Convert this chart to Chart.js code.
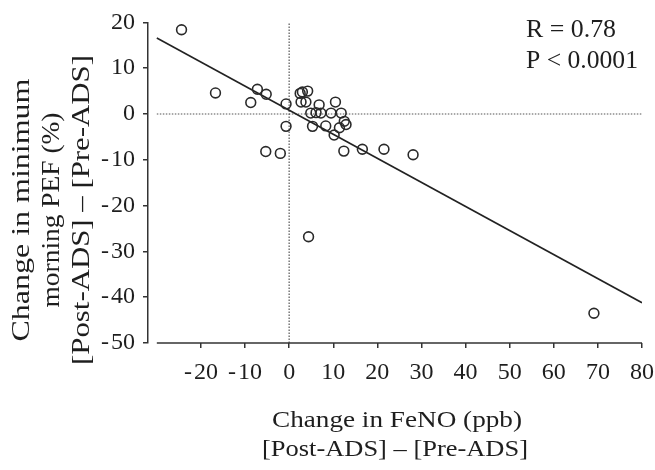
<!DOCTYPE html>
<html>
<head>
<meta charset="utf-8">
<script src="https://cdn.jsdelivr.net/npm/chart.js@4.4.0/dist/chart.umd.min.js"></script>
<style>
  html, body { margin: 0; padding: 0; background: #fff; overflow: hidden; }
  #wrap { position: relative; width: 655px; height: 470px; }
</style>
</head>
<body>
<div id="wrap"><canvas id="chart"></canvas></div>
<script>
// change in FeNO (ppb), post - pre
const feno = [-24.4, -16.7, -8.7, -7.2, -5.2, -5.3, -2.0, -0.7, -0.7, 2.5, 3.0, 4.2, 2.7, 3.8, 6.8, 10.5,
  4.9, 6.1, 7.2, 9.5, 11.8, 5.3, 8.3, 12.5, 12.9, 11.4, 10.2, 12.4, 16.6, 21.5, 28.1, 4.4, 69.1];
// change in minimum morning PEF (%), post - pre
const pef = [18.4, 4.6, 2.5, 5.4, 4.3, -8.2, -8.6, 2.2, -2.7, 4.5, 4.8, 5.0, 2.6, 2.6, 2.0, 2.6,
  0.2, 0.3, 0.2, 0.2, 0.2, -2.7, -2.6, -1.6, -2.3, -3.0, -4.6, -8.1, -7.7, -7.7, -8.9, -26.8, -43.5];

// regression line ends
const fitX = [-30, 80];
const fitY = [16.6, -41.2];

const xTicks = [-20, -10, 0, 10, 20, 30, 40, 50, 60, 70, 80];
const xRange = [-30, 80];
const yRange = [-50, 20];

const statsLines = ["R = 0.78", "P < 0.0001"];
const xTitle = ["Change in FeNO (ppb)", "[Post-ADS] \u2013 [Pre-ADS]"];
const yTitle = ["Change in minimum", "morning PEF (%)", "[Post-ADS] \u2013 [Pre-ADS]"];

const ink = "#1e1e1e";
const serif = "'Liberation Serif', 'Times New Roman', serif";

// draw text stretched to a given width (reference font runs wider than Times)
function stretchText(ctx, str, x, y, width) {
  const w = ctx.measureText(str).width;
  ctx.save();
  ctx.translate(x, y);
  ctx.scale(width / w, 1);
  ctx.fillText(str, 0, 0);
  ctx.restore();
}

// minus sign in the reference sits a little apart from the digits
const tickLabel = (v) => (v < 0 ? "-\u200A" + Math.abs(v) : String(v));

const extras = {
  id: "extras",
  afterDraw(chart) {
    const { ctx, chartArea, scales } = chart;
    ctx.save();

    // x axis line, starts at -30 (leaves a gap to the y axis)
    ctx.strokeStyle = "#333";
    ctx.lineWidth = 1.5;
    ctx.beginPath();
    ctx.moveTo(scales.x.getPixelForValue(xRange[0]), chartArea.bottom);
    ctx.lineTo(scales.x.getPixelForValue(xRange[1]), chartArea.bottom);
    ctx.stroke();

    ctx.fillStyle = ink;
    ctx.textBaseline = "alphabetic";

    // R / P annotation
    ctx.font = "25px " + serif;
    ctx.textAlign = "left";
    stretchText(ctx, statsLines[0], 526, 37, 90);
    stretchText(ctx, statsLines[1], 526, 68, 112);

    // x title
    ctx.font = "24px " + serif;
    ctx.textAlign = "center";
    stretchText(ctx, xTitle[0], 397, 427, 250);
    stretchText(ctx, xTitle[1], 395, 456, 266);

    // y title, rotated
    const yBase = [29, 59, 89];
    const yLen = [263, 195, 310];
    ctx.font = "26px " + serif;
    yTitle.forEach((line, i) => {
      ctx.save();
      ctx.translate(yBase[i], 210);
      ctx.rotate(-Math.PI / 2);
      stretchText(ctx, line, 0, 0, yLen[i]);
      ctx.restore();
    });

    ctx.restore();
  }
};

const tickFont = { family: serif, size: 24 };

new Chart(document.getElementById("chart"), {
  type: "scatter",
  data: {
    datasets: [
      {
        // horizontal dotted reference at 0
        type: "line",
        data: xRange.map((x) => ({ x: x, y: 0 })),
        borderColor: "#555",
        borderWidth: 1.2,
        borderDash: [1.5, 1.5],
        pointRadius: 0,
        order: 4
      },
      {
        // vertical dotted reference at 0
        type: "line",
        data: yRange.map((y) => ({ x: 0, y: y })),
        borderColor: "#555",
        borderWidth: 1.2,
        borderDash: [1.5, 1.5],
        pointRadius: 0,
        order: 3
      },
      {
        type: "line",
        data: fitX.map((x, i) => ({ x: x, y: fitY[i] })),
        borderColor: "#222",
        borderWidth: 1.6,
        pointRadius: 0,
        order: 2
      },
      {
        data: feno.map((x, i) => ({ x: x, y: pef[i] })),
        pointStyle: "circle",
        pointRadius: 4.9,
        pointBorderWidth: 1.6,
        pointBorderColor: "#2a2a2a",
        pointBackgroundColor: "rgba(255,255,255,0)",
        order: 1
      }
    ]
  },
  options: {
    responsive: true,
    maintainAspectRatio: false,
    animation: false,
    layout: { padding: { left: 0, right: 13, top: 18, bottom: 0 } },
    plugins: {
      legend: { display: false },
      tooltip: { enabled: false }
    },
    scales: {
      x: {
        type: "linear",
        min: -32,
        max: 80,
        afterBuildTicks: (scale) => {
          scale.ticks = xTicks.map((v) => ({ value: v }));
        },
        afterFit: (scale) => {
          scale.height = 127;
          scale.paddingLeft = 0;
          scale.paddingRight = 0;
        },
        border: { display: false },
        grid: {
          drawOnChartArea: false,
          drawTicks: true,
          tickLength: 5,
          color: "#333",
          lineWidth: 1.5
        },
        ticks: {
          font: tickFont,
          color: ink,
          padding: 10,
          maxRotation: 0,
          autoSkip: false,
          callback: tickLabel
        }
      },
      y: {
        type: "linear",
        min: yRange[0],
        max: yRange[1],
        afterFit: (scale) => { scale.width = 148; },
        border: { display: true, color: "#333", width: 1.5 },
        grid: {
          drawOnChartArea: false,
          drawTicks: true,
          tickLength: 5,
          color: "#333",
          lineWidth: 1.5
        },
        ticks: {
          stepSize: 10,
          font: tickFont,
          color: ink,
          padding: 8,
          callback: tickLabel
        }
      }
    }
  },
  plugins: [extras]
});
</script>
</body>
</html>
